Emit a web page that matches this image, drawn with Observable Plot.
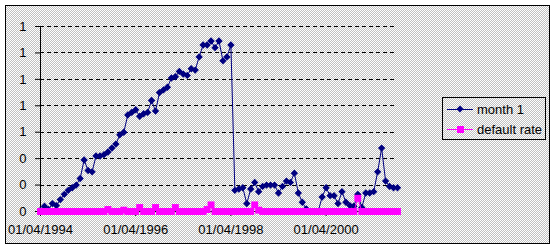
<!DOCTYPE html>
<html><head><meta charset="utf-8">
<script src="https://cdn.jsdelivr.net/npm/d3@7"></script>
<script src="https://cdn.jsdelivr.net/npm/@observablehq/plot@0.6"></script>
<style>
body{margin:0;background:#fff;}
#wrap{position:relative;width:556px;height:249px;overflow:hidden;font-family:"Liberation Sans",Arial,sans-serif;}
#bg{position:absolute;left:5px;top:5px;width:543px;height:237px;border:1px solid #000;background:repeating-conic-gradient(#c0c0c0 0 25%,#fff 0 50%) 0 0/2px 2px;}
#chart{position:absolute;left:0;top:0;}
#legend{position:absolute;left:442px;top:97px;width:102px;height:41px;border:1px solid #000;font-size:13px;color:#000;}
#legend .row{position:absolute;left:4px;height:14px;display:flex;align-items:center;white-space:pre;}
#legend svg{margin-right:4px;}
</style>
</head><body>
<div id="wrap"><div id="bg"></div><div id="chart"></div><div id="legend"></div></div>
<script>
const seriesNames = ["month 1", "default rate"];
const seriesColors = ["#000080", "#ff00ff"];
const month1 = [
0.01,0.04,0.015,0.06,0.045,0.09,0.13,0.16,0.18,0.20,
0.25,0.39,0.31,0.30,0.42,0.42,0.43,0.45,0.48,0.51,
0.58,0.60,0.73,0.75,0.77,0.72,0.74,0.75,0.84,0.76,
0.90,0.92,0.94,1.01,1.02,1.06,1.04,1.03,1.08,1.07,
1.17,1.26,1.26,1.29,1.24,1.29,1.14,1.17,1.26,0.16,
0.17,0.18,0.06,0.17,0.22,0.15,0.19,0.20,0.20,0.20,
0.14,0.19,0.23,0.22,0.29,0.14,0.07,0.02,0.0,0.0,
0.0,0.11,0.18,0.12,0.12,0.06,0.15,0.07,0.045,0.04,
0.13,0.03,0.14,0.14,0.15,0.30,0.48,0.23,0.19,0.18,0.18];
const defaultRate = [
0,0,0,0,0,0,0,0,0,0,
0,0,0,0,0,0,0,0.015,0,0,
0,0.01,0,0,0,0.03,0,0,0,0.03,
0,0,0,0,0.03,0,0,0,0,0,
0,0,0.015,0.05,0,0,0,0,0,0,
0,0,0,0,0.05,0.01,0,0,0,0,
0,0,0,0,0,0,0,0,0,0,
0,0,0,0,0,0,0,0,0,0,
0.1,0,0,0,0,0,0,0,0,0,0];
const yTicks = [0,0.2,0.4,0.6,0.8,1.0,1.2,1.4];
const xTickPos = [0,24,48,72];
const xTickLabels = ["01/04/1994","01/04/1996","01/04/1998","01/04/2000"];

const rows1 = month1.map((v,i)=>({i, v}));
const rows2 = defaultRate.map((v,i)=>({i, v}));
const n = month1.length;

const chart = Plot.plot({
  width:556, height:249,
  marginLeft:40, marginRight:159, marginTop:26, marginBottom:38,
  x:{domain:[0,n-1], axis:null},
  y:{domain:[0,1.4], axis:null},
  style:{background:"transparent", fontFamily:"'Liberation Sans', Arial, sans-serif", fontSize:"13px", color:"#000", overflow:"visible"},
  marks:[
    Plot.ruleY(yTicks.filter(d=>d>0), {stroke:"#000", strokeDasharray:"4,3", shapeRendering:"crispEdges"}),
    Plot.ruleX([0], {y1:0, y2:1.4, stroke:"#000", shapeRendering:"crispEdges"}),
    Plot.ruleY([0], {stroke:"#000", shapeRendering:"crispEdges"}),
    Plot.axisY({ticks:yTicks, tickSize:5, tickPadding:9, label:null, tickFormat:d=>d3.format(".0f")(d), fill:"#000"}),
    Plot.axisX({ticks:xTickPos, tickSize:5, tickPadding:8, label:null, tickFormat:d=>xTickLabels[xTickPos.indexOf(d)], fill:"#000"}),
    Plot.line(rows1,{x:"i", y:"v", stroke:seriesColors[0], strokeWidth:1}),
    Plot.dot(rows1,{x:"i", y:"v", symbol:"diamond2", r:3.3, fill:seriesColors[0], stroke:null}),
    Plot.line(rows2,{x:"i", y:"v", stroke:seriesColors[1], strokeWidth:1}),
    Plot.dot(rows2,{x:"i", y:"v", symbol:"square", r:3.9, fill:seriesColors[1], stroke:null})
  ]
});
document.getElementById("chart").appendChild(chart);

const lg = document.getElementById("legend");
const syms = ["diamond","square"];
seriesNames.forEach((name,k)=>{
  const row = document.createElement("div");
  row.className = "row";
  row.style.top = (k===0 ? 4 : 24) + "px";
  const c = seriesColors[k];
  const marker = syms[k]==="diamond"
    ? `<path d="M13 3.5L16.5 7L13 10.5L9.5 7Z" fill="${c}"/>`
    : `<rect x="10" y="4" width="7" height="7" fill="${c}"/>`;
  row.innerHTML = `<svg width="26" height="14"><line x1="0" x2="26" y1="7.5" y2="7.5" stroke="${c}"/>${marker}</svg><span>${name}</span>`;
  lg.appendChild(row);
});
</script>
</body></html>
